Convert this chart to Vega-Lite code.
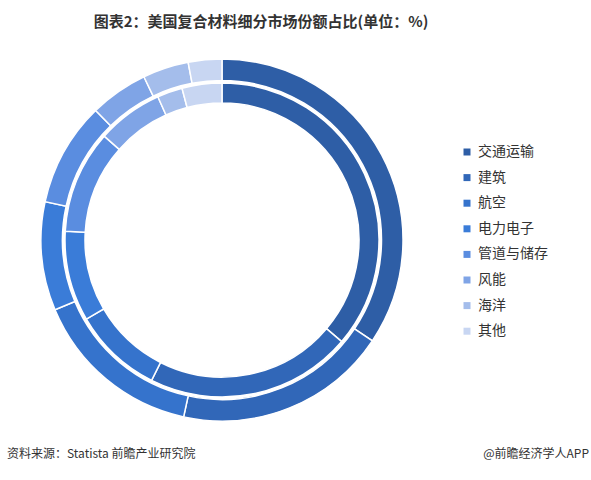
{
  "$schema": "https://vega.github.io/schema/vega-lite/v6.json",
  "autosize": {"type": "none"},
  "width": 444,
  "height": 404,
  "padding": {"left": 0, "top": 38, "right": 147, "bottom": 38},
  "background": "white",
  "config": {"view": {"stroke": null}, "font": "Noto Sans CJK SC"},
  "title": {
    "text": "图表2：美国复合材料细分市场份额占比(单位：%)",
    "anchor": "middle",
    "dx": 39,
    "offset": 8,
    "fontSize": 15,
    "fontWeight": "bold",
    "font": "Noto Sans CJK SC",
    "color": "#333333"
  },
  "datasets": {
    "shares": [
      {"ring": "outer", "category": "交通运输", "rank": 1, "value": 34.4},
      {"ring": "outer", "category": "建筑", "rank": 2, "value": 19.0},
      {"ring": "outer", "category": "航空", "rank": 3, "value": 15.3},
      {"ring": "outer", "category": "电力电子", "rank": 4, "value": 9.7},
      {"ring": "outer", "category": "管道与储存", "rank": 5, "value": 9.3},
      {"ring": "outer", "category": "风能", "rank": 6, "value": 5.2},
      {"ring": "outer", "category": "海洋", "rank": 7, "value": 4.1},
      {"ring": "outer", "category": "其他", "rank": 8, "value": 3.0},
      {"ring": "inner", "category": "交通运输", "rank": 1, "value": 36.2},
      {"ring": "inner", "category": "建筑", "rank": 2, "value": 21.2},
      {"ring": "inner", "category": "航空", "rank": 3, "value": 9.2},
      {"ring": "inner", "category": "电力电子", "rank": 4, "value": 9.3},
      {"ring": "inner", "category": "管道与储存", "rank": 5, "value": 10.6},
      {"ring": "inner", "category": "风能", "rank": 6, "value": 6.8},
      {"ring": "inner", "category": "海洋", "rank": 7, "value": 2.6},
      {"ring": "inner", "category": "其他", "rank": 8, "value": 4.1}
    ],
    "notes": [
      {"side": "left", "label": "资料来源：Statista 前瞻产业研究院"},
      {"side": "right", "label": "@前瞻经济学人APP"}
    ]
  },
  "layer": [
    {
      "data": {"name": "shares"},
      "transform": [{"filter": "datum.ring === 'outer'"}],
      "mark": {"type": "arc", "outerRadius": 181, "innerRadius": 159.5, "stroke": "white", "strokeWidth": 1.5},
      "encoding": {
        "theta": {"field": "value", "type": "quantitative", "stack": true},
        "order": {"field": "rank", "type": "quantitative"},
        "color": {
          "field": "category",
          "type": "nominal",
          "scale": {
            "domain": ["交通运输", "建筑", "航空", "电力电子", "管道与储存", "风能", "海洋", "其他"],
            "range": ["#2E5EA6", "#3167B8", "#3573CC", "#3A7CD8", "#5A8DE0", "#7FA4E6", "#A4BDEB", "#C8D6F2"]
          },
          "legend": {
            "orient": "none",
            "legendX": 460,
            "legendY": 107,
            "title": null,
            "symbolType": "square",
            "symbolSize": 49,
            "symbolStrokeWidth": 0,
            "labelFontSize": 14,
            "labelFont": "Noto Sans CJK SC",
            "labelColor": "#333333",
            "rowPadding": 11.6,
            "labelOffset": 4
          }
        }
      }
    },
    {
      "data": {"name": "shares"},
      "transform": [{"filter": "datum.ring === 'inner'"}],
      "mark": {"type": "arc", "outerRadius": 157, "innerRadius": 137, "stroke": "white", "strokeWidth": 1.5},
      "encoding": {
        "theta": {"field": "value", "type": "quantitative", "stack": true},
        "order": {"field": "rank", "type": "quantitative"},
        "color": {"field": "category", "type": "nominal"}
      }
    },
    {
      "data": {"name": "notes"},
      "transform": [{"filter": "datum.side === 'left'"}],
      "mark": {"type": "text", "align": "left", "baseline": "middle", "fontSize": 12, "font": "Noto Sans CJK SC", "color": "#333333"},
      "encoding": {
        "x": {"field": "side", "type": "nominal", "scale": {"type": "point", "domain": ["left", "right"], "range": [7, 589], "padding": 0}, "axis": null},
        "y": {"field": "side", "type": "nominal", "scale": {"type": "point", "domain": ["left", "right"], "range": [416, 416], "padding": 0}, "axis": null},
        "text": {"field": "label"}
      }
    },
    {
      "data": {"name": "notes"},
      "transform": [{"filter": "datum.side === 'right'"}],
      "mark": {"type": "text", "align": "right", "baseline": "middle", "fontSize": 12, "font": "Noto Sans CJK SC", "color": "#333333"},
      "encoding": {
        "x": {"field": "side", "type": "nominal"},
        "y": {"field": "side", "type": "nominal"},
        "text": {"field": "label"}
      }
    }
  ]
}
